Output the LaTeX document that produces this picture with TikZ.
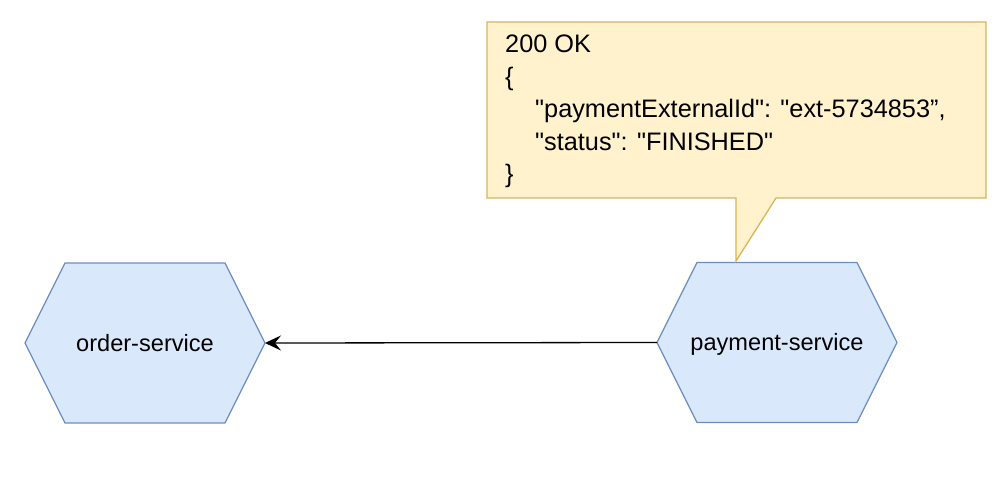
\documentclass[tikz,border=0pt]{standalone}
\usepackage{fontspec}
\setmainfont{Liberation Sans}[Ligatures=TeXOff]
\usetikzlibrary{arrows.meta,backgrounds}
\definecolor{hexfill}{HTML}{DAE8FC}
\definecolor{hexline}{HTML}{6C8EBF}
\definecolor{notefill}{HTML}{FFF2CC}
\definecolor{noteline}{HTML}{D6B656}
\tikzset{
  hexnode/.style={rectangle, minimum width=240pt, minimum height=160pt, inner sep=0pt, outer sep=0pt,
    text height=18pt, text depth=2pt, font=\fontsize{23.6}{28}\selectfont},
  hexshape/.style={draw=hexline, fill=hexfill, line width=1.3pt, line join=miter},
  notebox/.style={draw=noteline, fill=notefill, line width=1.3pt, line join=miter},
  notetext/.style={anchor=north west, align=left, inner sep=0pt, font=\fontsize{25.3}{32.5}\selectfont},
  conn/.style={line width=1.3pt, -{Stealth[length=16pt,width=15pt,inset=6pt]}}
}
\newcommand{\hexpath}[1]{%
  \begin{scope}[on background layer]
  \draw[hexshape] (#1.west) -- ([xshift=40pt]#1.north west) -- ([xshift=-40pt]#1.north east) -- (#1.east)
    -- ([xshift=-40pt]#1.south east) -- ([xshift=40pt]#1.south west) -- cycle;
  \end{scope}}
\begin{document}
\begin{tikzpicture}[x=1pt,y=-1pt]
\useasboundingbox (0,0) rectangle (1004,484);
\node[hexnode] (order) at (145,343) {order-service};
\hexpath{order}
\node[hexnode] (payment) at (777,342.5) {payment-service};
\hexpath{payment}
\coordinate (tip) at (736,261);
\draw[notebox] (487,22) -- (986,22) -- (986,198) -- (776,198) -- (tip) -- (736,198) -- (487,198) -- cycle;
\node[notetext] (resp) at (505,35) {200 OK\\
\{\\
\hspace*{30pt}"paymentExternalId": "ext-5734853”,\\
\hspace*{30pt}"status": "FINISHED"\\
\}};
\draw[conn] (payment.west) -- (order.east);
\end{tikzpicture}
\end{document}
